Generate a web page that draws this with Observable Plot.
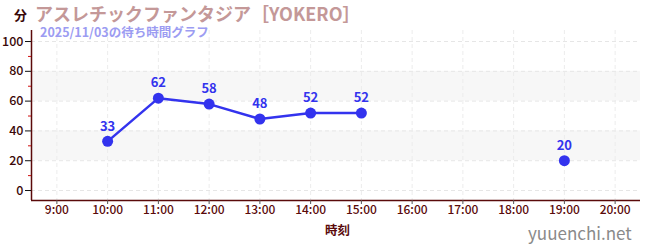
<!DOCTYPE html>
<html><head><meta charset="utf-8">
<script src="https://cdn.jsdelivr.net/npm/d3@7"></script>
<script src="https://cdn.jsdelivr.net/npm/@observablehq/plot@0.6"></script>
<style>
body{margin:0;background:#fff;font-family:"Noto Sans CJK JP","Noto Sans",sans-serif;}
#wrap{position:relative;width:650px;height:250px;overflow:hidden;}
.ov{position:absolute;white-space:nowrap;line-height:1;}
</style></head>
<body><div id="wrap"></div>
<script>
const titleText = "アスレチックファンタジア［YOKERO］";
const subtitleText = "2025/11/03の待ち時間グラフ";
const unitText = "分";
const xLabel = "時刻";
const watermark = "yuuenchi.net";
const hours = [10, 11, 12, 13, 14, 15, 16, 17, 18, 19];
const waits = [33, 62, 58, 48, 52, 52, null, null, null, 20];
const xTicks = [9,10,11,12,13,14,15,16,17,18,19,20];
const yTicks = [0,20,40,60,80,100];
const yMinor = [10,30,50,70,90];
const bands = [[20,40],[60,80]];

const data = hours.map((h,i)=>({h, v: waits[i]}));
const pts = data.filter(d=>d.v!=null);
const axisColor = "#5a0a0a";
const blue = "#3333ee";

const chart = Plot.plot({
  width: 650, height: 250,
  marginLeft: 31, marginRight: 10, marginTop: 30, marginBottom: 50,
  style: {fontFamily: '"Noto Sans CJK JP","Noto Sans",sans-serif', background: "transparent"},
  x: {type: "linear", domain: [8.5, 20.5], axis: null},
  y: {type: "linear", domain: [-6.7, 107.4], axis: null},
  marks: [
    Plot.rect(bands, {x1: () => 8.5, x2: () => 20.5, y1: d=>d[0], y2: d=>d[1], fill: "#f7f7f7"}),
    Plot.ruleY(yTicks, {stroke: "#e6e6e6", strokeDasharray: "4,3"}),
    Plot.ruleX(xTicks, {stroke: "#ececec", strokeDasharray: "4,3"}),
    Plot.ruleX([8.5], {stroke: axisColor, strokeWidth: 1.5}),
    Plot.ruleY([-6.7], {stroke: axisColor, strokeWidth: 1.5}),
    Plot.axisY(yTicks, {tickSize: 6, stroke: "#111", color: "#3a0808", fontSize: 12.5, fontWeight: 500, tickPadding: 2, label: null, tickFormat: d=>String(d)}),
    Plot.axisY(yMinor, {tickSize: 3, stroke: "#d01010", text: null, label: null}),
    Plot.axisX(xTicks, {anchor: "bottom", tickSize: 4, stroke: "#555", color: axisColor, fontSize: 12, fontWeight: 500, tickPadding: 1, label: null, tickFormat: d=>d+":00"}),
    Plot.line(data, {x: "h", y: "v", stroke: blue, strokeWidth: 2.5, defined: d=>d.v!=null}),
    Plot.dot(pts, {x: "h", y: "v", r: 5.5, fill: blue, stroke: "none"}),
    Plot.text(pts, {x: "h", y: "v", text: d=>String(d.v), dy: -15, fill: blue, fontSize: 13, fontWeight: "bold"})
  ]
});
const wrap = document.getElementById("wrap");
wrap.appendChild(chart);
function ov(text, css){const d=document.createElement("div");d.className="ov";d.textContent=text;Object.assign(d.style,css);wrap.appendChild(d);}
ov(unitText,{left:"14px",top:"8px",fontSize:"13px",fontWeight:"bold",color:"#3a0808"});
ov(titleText,{left:"35px",top:"4px",fontSize:"18px",fontWeight:"bold",color:"#c49898"});
ov(subtitleText,{left:"40px",top:"26px",fontSize:"12.5px",fontWeight:"bold",color:"#9c9cf2"});
ov(xLabel,{left:"325px",top:"224px",fontSize:"12.5px",fontWeight:"bold",color:axisColor});
ov(watermark,{left:"528px",top:"224px",fontSize:"17px",color:"#8a8a8a"});
</script></body></html>
